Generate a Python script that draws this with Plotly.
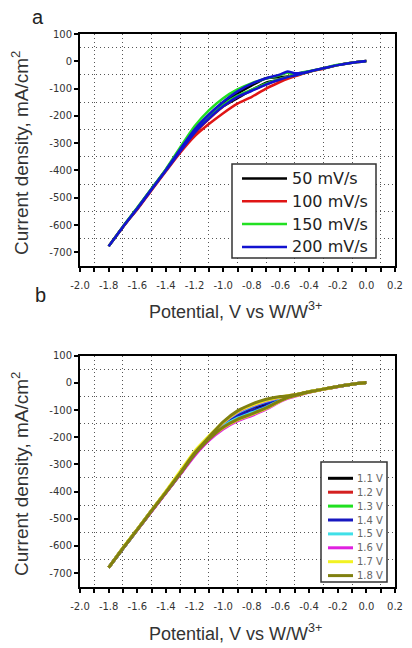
import plotly.graph_objects as go

# ---------------- data ----------------
# potential grid (V vs W/W3+), forward sweep order 0 -> -1.8
X_GRID = [0.0, -0.1, -0.2, -0.3, -0.4, -0.45, -0.5, -0.55, -0.6, -0.7, -0.8,
          -0.9, -1.0, -1.1, -1.2, -1.3, -1.4, -1.5, -1.6, -1.7, -1.8]

# panel a: scan rates
TOP_NAMES = ["50 mV/s", "100 mV/s", "150 mV/s", "200 mV/s"]
TOP_COLORS = ["#000000", "#e01515", "#22e022", "#1212d0"]
TOP_LOWER = [
    [0, -5, -14, -26, -38, -45, -52, -60, -68, -78, -105, -135, -165, -208, -260, -328, -399, -469, -540, -607, -678],
    [0, -5, -14, -27, -39, -47, -55, -64, -75, -100, -130, -155, -190, -230, -275, -335, -403, -472, -543, -606, -678],
    [0, -5, -14, -26, -38, -45, -51, -57, -64, -82, -104, -126, -160, -204, -255, -325, -398, -468, -538, -606, -678],
    [0, -5, -14, -26, -38, -45, -52, -58, -66, -85, -108, -130, -165, -210, -262, -330, -400, -470, -540, -607, -678],
]
TOP_UPPER = [
    [1, -5, -14, -26, -37, -43, -48, -56, -58, -62, -88, -118, -152, -198, -252, -325, -397, -467, -538, -606, -678],
    [1, -5, -14, -26, -38, -45, -51, -57, -65, -84, -106, -130, -166, -212, -264, -332, -401, -471, -541, -608, -678],
    [1, -5, -13, -25, -36, -41, -45, -42, -50, -63, -80, -103, -135, -180, -238, -315, -395, -466, -536, -605, -678],
    [1, -5, -14, -25, -37, -42, -44, -37, -48, -62, -82, -110, -148, -195, -250, -322, -398, -468, -538, -606, -678],
]

# panel b: upper potential limits
BOT_NAMES = ["1.1 V", "1.2 V", "1.3 V", "1.4 V", "1.5 V", "1.6 V", "1.7 V", "1.8 V"]
BOT_COLORS = ["#000000", "#d42020", "#20e020", "#1818c0", "#40e0e8", "#e020e0", "#f2f222", "#808010"]
BOT_LOWER = [
    [0, -5, -13, -23, -33, -39, -45, -51, -62, -85, -105, -125, -158, -207, -263, -334, -403, -471, -540, -609, -680],
    [0, -5, -13, -23, -34, -40, -46, -53, -64, -90, -112, -132, -162, -209, -265, -335, -404, -472, -541, -609, -680],
    [0, -5, -13, -23, -33, -39, -46, -52, -63, -88, -108, -130, -160, -207, -263, -334, -403, -471, -540, -609, -680],
    [0, -5, -13, -23, -33, -39, -45, -51, -62, -86, -104, -126, -157, -206, -262, -333, -403, -471, -540, -609, -680],
    [0, -5, -13, -23, -33, -40, -46, -53, -64, -90, -110, -130, -160, -207, -263, -334, -403, -471, -540, -609, -680],
    [0, -5, -14, -24, -35, -42, -49, -57, -68, -97, -120, -140, -170, -212, -268, -337, -405, -473, -541, -609, -680],
    [0, -5, -13, -24, -34, -41, -48, -55, -66, -94, -116, -136, -165, -205, -258, -330, -400, -469, -539, -607, -680],
    [0, -5, -13, -23, -34, -40, -47, -54, -65, -92, -114, -134, -163, -207, -263, -334, -403, -471, -540, -609, -680],
]
BOT_UPPER = [
    [1, -5, -13, -23, -33, -39, -45, -50, -58, -75, -92, -118, -152, -203, -260, -332, -402, -470, -540, -608, -680],
    [1, -5, -13, -23, -33, -39, -45, -50, -56, -72, -90, -116, -150, -202, -259, -331, -402, -470, -540, -608, -680],
    [1, -5, -13, -23, -33, -39, -45, -49, -55, -70, -88, -113, -148, -201, -258, -330, -401, -470, -540, -608, -680],
    [1, -5, -13, -23, -33, -39, -45, -50, -57, -73, -90, -115, -150, -203, -260, -332, -402, -470, -540, -608, -680],
    [1, -5, -13, -23, -33, -39, -45, -49, -54, -68, -86, -110, -147, -200, -257, -330, -401, -470, -540, -608, -680],
    [1, -5, -13, -23, -33, -39, -44, -48, -53, -66, -84, -108, -146, -200, -257, -330, -401, -470, -540, -608, -680],
    [1, -5, -13, -22, -32, -38, -44, -47, -52, -64, -82, -106, -145, -196, -252, -325, -398, -468, -538, -606, -680],
    [1, -5, -13, -23, -33, -38, -44, -48, -50, -60, -78, -103, -143, -200, -258, -331, -402, -470, -540, -608, -680],
]

X_TICKS = [-2.0, -1.8, -1.6, -1.4, -1.2, -1.0, -0.8, -0.6, -0.4, -0.2, 0.0, 0.2]
X_TICK_LABELS = ["-2.0", "-1.8", "-1.6", "-1.4", "-1.2", "-1.0", "-0.8", "-0.6", "-0.4", "-0.2", "0.0", "0.2"]
Y_TICKS = [100, 0, -100, -200, -300, -400, -500, -600, -700]
Y_TICK_LABELS = ["100", "0", "-100", "-200", "-300", "-400", "-500", "-600", "-700"]

X_TITLE = "Potential, V vs W/W<sup>3+</sup>"
Y_TITLE = "Current density, mA/cm<sup>2</sup>"

FONT = "Arial, Liberation Sans, sans-serif"
WIDE = "DejaVu Sans, sans-serif"

# ---------------- page geometry ----------------
# the page body has an 8px margin, so the figure is sized to the visible area
OFF = 8
W, H = 412 - OFF, 648 - OFF


def px(sx):
    return (sx - OFF) / W


def py(sy):
    return 1 - (sy - OFF) / H


# ---------------- figure ----------------
fig = go.Figure()

for name, color, lo, up in zip(TOP_NAMES, TOP_COLORS, TOP_LOWER, TOP_UPPER):
    fig.add_trace(go.Scatter(
        x=X_GRID + X_GRID[::-1], y=lo + up[::-1], mode="lines", name=name,
        line=dict(color=color, width=2.5, shape="spline", smoothing=0.6),
        xaxis="x", yaxis="y", showlegend=False))

for name, color, lo, up in zip(BOT_NAMES, BOT_COLORS, BOT_LOWER, BOT_UPPER):
    fig.add_trace(go.Scatter(
        x=X_GRID + X_GRID[::-1], y=lo + up[::-1], mode="lines", name=name,
        line=dict(color=color, width=3, shape="spline", smoothing=0.6),
        xaxis="x2", yaxis="y2", showlegend=False))

XDOM = [px(80), px(395)]
TOP_DOM = [py(266), py(34)]
BOT_DOM = [py(586.7), py(355.7)]

tickfont = dict(family=WIDE, size=10, color="#333333")
grid_minor_x = dict(tickmode="linear", tick0=-1.9, dtick=0.2, ticks="outside", ticklen=4,
                    tickwidth=1.5, tickcolor="black", showgrid=True, griddash="1px,3px",
                    gridcolor="#555555", gridwidth=1)
grid_minor_y = dict(tickmode="linear", tick0=50, dtick=100, ticks="", showgrid=True,
                    griddash="1px,3px", gridcolor="#555555", gridwidth=1)


def xaxis(anchor):
    return dict(domain=XDOM, range=[-2.0, 0.2], anchor=anchor, tickmode="array",
                tickvals=X_TICKS, ticktext=X_TICK_LABELS, showline=True, linecolor="black",
                linewidth=2, mirror=True, ticks="outside", ticklen=4, tickwidth=1.5,
                tickcolor="black", showgrid=False, zeroline=False, tickfont=tickfont,
                ticklabelstandoff=5, minor=grid_minor_x, fixedrange=True, automargin=False)


def yaxis(anchor, dom):
    return dict(domain=dom, range=[-750, 100], anchor=anchor, tickmode="array",
                tickvals=Y_TICKS, ticktext=Y_TICK_LABELS, showline=True, linecolor="black",
                linewidth=2, mirror=True, ticks="outside", ticklen=4, tickwidth=1.5,
                tickcolor="black", showgrid=False, zeroline=False, tickfont=tickfont,
                minor=grid_minor_y, fixedrange=True, automargin=False)


fig.update_layout(
    template="none",
    width=W, height=H, margin=dict(l=0, r=0, t=0, b=0, pad=0),
    paper_bgcolor="white", plot_bgcolor="white",
    font=dict(family=FONT, color="#222222"),
    xaxis=xaxis("y"), yaxis=yaxis("x", TOP_DOM),
    xaxis2=xaxis("y2"), yaxis2=yaxis("x2", BOT_DOM),
    showlegend=False,
)


def add_legend(names, colors, box, row0, step, line_x, text_x, size, text_color, lw):
    left, right, top, bottom = box
    fig.add_shape(type="rect", xref="paper", yref="paper",
                  x0=px(left), x1=px(right), y0=py(bottom), y1=py(top),
                  line=dict(color="#333333", width=1.5), fillcolor="white", layer="above")
    for i, (name, color) in enumerate(zip(names, colors)):
        yy = py(row0 + i * step)
        fig.add_shape(type="line", xref="paper", yref="paper", x0=px(line_x[0]),
                      x1=px(line_x[1]), y0=yy, y1=yy, line=dict(color=color, width=lw),
                      layer="above")
        fig.add_annotation(xref="paper", yref="paper", x=px(text_x), y=yy, xanchor="left",
                           yanchor="middle", text=name, showarrow=False,
                           font=dict(family=WIDE, size=size, color=text_color))


# legend of panel a and panel b
add_legend(TOP_NAMES, TOP_COLORS, (232, 376, 164, 258), 178.5, 22.8, (242, 287), 290,
           16, "#222222", 2.5)
add_legend(BOT_NAMES, BOT_COLORS, (321, 387, 462, 582), 478.3, 13.9, (328, 353), 355,
           10, "#666666", 3)

for text, sx, sy in [("a", 38, 17), ("b", 40, 295)]:
    fig.add_annotation(xref="paper", yref="paper", x=px(sx), y=py(sy), text=text,
                       xanchor="center", yanchor="middle", showarrow=False,
                       font=dict(family=FONT, size=20, color="#222222"))

for ycen in [310, 632]:
    fig.add_annotation(xref="paper", yref="paper", x=px(235), y=py(ycen),
                       xanchor="center", yanchor="middle",
                       text=X_TITLE, showarrow=False,
                       font=dict(family=FONT, size=18, color="#333333"))
for ycen in [153, 474]:
    fig.add_annotation(xref="paper", yref="paper", x=px(20), y=py(ycen), text=Y_TITLE,
                       xanchor="center", yanchor="middle",
                       showarrow=False, textangle=-90,
                       font=dict(family=FONT, size=19, color="#333333"))

fig.write_html("out.html")
